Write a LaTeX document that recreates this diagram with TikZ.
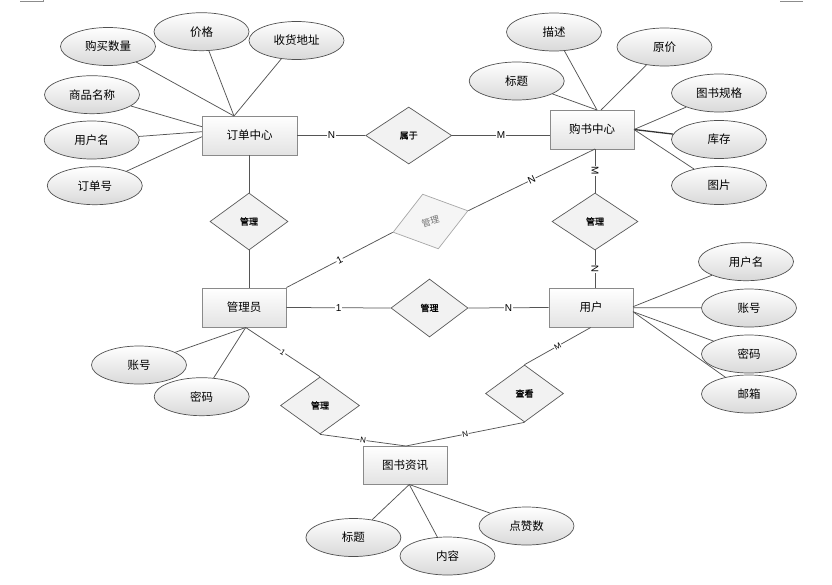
\documentclass[tikz,border=0pt]{standalone}
\usepackage{fontspec}
\setmainfont{Noto Sans CJK SC}
\newfontfamily\cjkbold[FakeBold=1.2]{Noto Sans CJK SC}
\newfontfamily\lab{Liberation Sans}
\usetikzlibrary{shapes.geometric,shadows}
\definecolor{lnc}{HTML}{555555}
\definecolor{rbd}{HTML}{8A8A8A}
\definecolor{ebd}{HTML}{505050}
\definecolor{dbd}{HTML}{5A5A5A}
\tikzset{
  ent/.style={rectangle, draw=rbd, line width=0.9pt, top color=white, bottom color=black!11,
    minimum width=84pt, minimum height=39pt, inner sep=0pt, font=\fontsize{11.5}{12}\selectfont,
    drop shadow={shadow xshift=1.2pt, shadow yshift=-1.2pt, fill=black!25}},
  attr/.style={ellipse, draw=ebd, line width=0.7pt, top color=white, bottom color=black!15,
    minimum width=95pt, minimum height=38pt, inner sep=0pt, font=\fontsize{11.5}{12}\selectfont},
  rel/.style={diamond, draw=dbd, line width=0.7pt, fill=black!5,
    minimum width=78pt, minimum height=57pt, inner sep=0pt, font=\cjkbold\fontsize{9}{10}\selectfont},
  grel/.style={rel, draw=black!35, fill=black!4, text=black!55, font=\fontsize{9}{10}\selectfont},
  conn/.style={draw=lnc, line width=0.75pt},
  card/.style={fill=white, inner sep=0.6pt, font=\lab\fontsize{10}{10}\selectfont},
}
\begin{document}
\begin{tikzpicture}[x=1pt,y=-1pt]
\useasboundingbox (0,0) rectangle (832,584);
% page corner marks
\draw[black!45, line width=0.6pt] (20,1) -- (43,1) -- (43,-0.5);
\draw[black!45, line width=0.6pt] (780,1) -- (803,1);

% entities
\node[ent, minimum width=95pt] (ord) at (249.5,135.5) {订单中心};
\node[ent] (shop) at (592,129.5) {购书中心};
\node[ent] (adm) at (244,307.5) {管理员};
\node[ent] (usr) at (591,307.5) {用户};
\node[ent, minimum height=38pt] (news) at (405,465) {图书资讯};

% relationships
\node[rel, minimum width=86pt] (d1) at (408.7,135.5) {属于};
\node[rel] (d2) at (249,221.5) {管理};
\node[grel, rotate=16] (d3) at (430.5,221.5) {管理};
\node[rel, minimum width=86pt] (d4) at (595,221.5) {管理};
\node[rel, minimum width=77pt, minimum height=58pt] (d5) at (429.5,308) {管理};
\node[rel, minimum width=79pt] (d6) at (320,405.5) {管理};
\node[rel] (d7) at (524.5,393.5) {查看};

% attributes
\node[attr] (a1) at (108,46.5) {购买数量};
\node[attr] (a2) at (201.5,31.7) {价格};
\node[attr] (a3) at (296.5,40.5) {收货地址};
\node[attr] (a4) at (92,94.7) {商品名称};
\node[attr] (a5) at (91.7,140) {用户名};
\node[attr] (a6) at (94.8,185.7) {订单号};
\node[attr] (b1) at (516.7,81) {标题};
\node[attr] (b2) at (554,32) {描述};
\node[attr] (b3) at (664.5,47) {原价};
\node[attr] (b4) at (719,93) {图书规格};
\node[attr] (b5) at (719,139.5) {库存};
\node[attr] (b6) at (719,185.5) {图片};
\node[attr] (c1) at (746,261.7) {用户名};
\node[attr] (c2) at (749,308) {账号};
\node[attr] (c3) at (749,354) {密码};
\node[attr] (c4) at (749,394) {邮箱};
\node[attr] (e1) at (139,365) {账号};
\node[attr] (e2) at (201.7,396.7) {密码};
\node[attr] (f1) at (353.4,537.5) {标题};
\node[attr] (f2) at (447.5,556) {内容};
\node[attr] (f3) at (526.5,526) {点赞数};

% connection points on entity borders
\coordinate (ordT) at (234,116);
\coordinate (ordL1) at (202,126.7);
\coordinate (ordL2) at (202,131.7);
\coordinate (ordL3) at (202,136.7);
\coordinate (shopT1) at (597,110);
\coordinate (shopT2) at (601,110);
\coordinate (shopR) at (634,129.5);
\coordinate (shopL) at (550,135.5);
\coordinate (shopB) at (595,149);
\coordinate (usrR1) at (633,306.7);
\coordinate (usrR2) at (633,311.7);
\coordinate (usrT) at (595,288);
\coordinate (usrB) at (590.7,327.5);
\coordinate (admT) at (249,288);
\coordinate (admB) at (245.7,327.5);
\coordinate (newsT) at (406,446);
\coordinate (newsB) at (409.3,484.5);

% attribute lines
\draw[conn] (a1) -- (ordT);
\draw[conn] (a2) -- (ordT);
\draw[conn] (a3) -- (ordT);
\draw[conn] (a4) -- (ordL1);
\draw[conn] (a5) -- (ordL2);
\draw[conn] (a6) -- (ordL3);
\draw[conn] (b1) -- (shopT1);
\draw[conn] (b2) -- (shopT1);
\draw[conn] (b3) -- (shopT2);
\draw[conn] (b4) -- (shopR);
\draw[conn, line width=1.3pt, draw=black!80] (b5) -- (shopR);
\draw[conn] (b6) -- (shopR);
\draw[conn] (c1) -- (usrR1);
\draw[conn] (c2) -- (usr);
\draw[conn] (c3) -- (usrR2);
\draw[conn] (c4) -- (usrR2);
\draw[conn] (e1) -- (admB);
\draw[conn] (e2) -- (admB);
\draw[conn] (f1) -- (newsB);
\draw[conn] (f2) -- (newsB);
\draw[conn] (f3) -- (newsB);

% relationship lines
\draw[conn] (ord) -- node[card] {N} (d1);
\draw[conn] (d1.east) -- node[card] {M} (shopL);
\draw[conn] (ord.south -| d2.north) -- (d2.north);
\draw[conn] (d2.south) -- (admT);
\draw[conn] (shopB) -- node[card, rotate=-90] {M} (d4.north);
\draw[conn] (d4.south) -- node[card, rotate=90] {N} (usrT);
\draw[conn] (shopB) -- node[card, sloped] {N} (d3.east);
\draw[conn] (d3.west) -- node[card, sloped] {1} (adm.north east);
\draw[conn] (adm.east) -- node[card] {1} (d5.west);
\draw[conn] (d5.east) -- node[card] {N} (usr.west);
\draw[conn] (usrB) -- node[card, sloped, font=\lab\fontsize{8}{8}\selectfont] {M} (d7.north);
\draw[conn] (d7.south) -- node[card, sloped, font=\lab\fontsize{8}{8}\selectfont] {N} (newsT);
\draw[conn] (d6.south) -- node[card, sloped, font=\lab\fontsize{8}{8}\selectfont] {N} (newsT);
\draw[conn] (admB) -- node[card, sloped, font=\lab\fontsize{8}{8}\selectfont] {1} (d6.north);
\end{tikzpicture}
\end{document}
